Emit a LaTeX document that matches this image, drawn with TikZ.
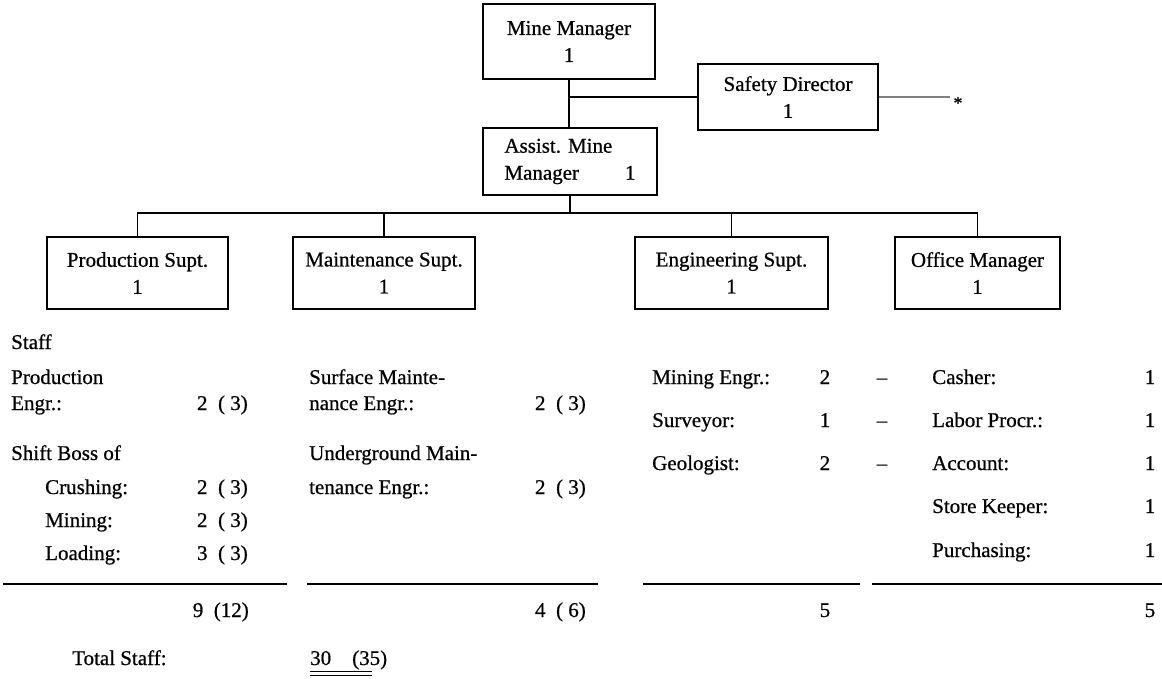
\documentclass[tikz,border=0pt]{standalone}
\usepackage{fontspec}
\setmainfont{Liberation Serif}[FakeBold=0.7]

\tikzset{
  box/.style={draw, line width=2.2pt, align=center, inner sep=0pt},
  wire/.style={line width=1.5pt},
  rule/.style={line width=1.5pt},
  lbl/.style={anchor=base west, inner sep=0pt},
  num/.style={anchor=base east, inner sep=0pt},
  fig/.style={anchor=base, inner sep=0pt}
}

\begin{document}
\begin{tikzpicture}[x=1pt, y=-1pt, font=\fontsize{21}{27}\selectfont]
            \useasboundingbox (0,0) rectangle (1162,679);

            % Draw the top boxes
            \node[box, minimum width=172pt, minimum height=75pt] (mm) at (569,41.5) {Mine Manager\\1};
            \node[box, minimum width=180pt, minimum height=66pt] (safety) at (788,97) {Safety Director\\1};
            \node[box, minimum width=174pt, minimum height=67pt, align=left] (asst) at (570,161.5) {Assist. Mine\\Manager\hspace{46pt}1};
            \node[inner sep=0pt, font=\fontsize{18}{18}\selectfont] (star) at (958,103) {*};

            % Draw the boxes of the second level
            \node[box, minimum width=181pt, minimum height=72pt] (prod) at (137.5,273) {Production Supt.\\1};
            \node[box, minimum width=182pt, minimum height=72pt] (main) at (384,273) {Maintenance Supt.\\1};
            \node[box, minimum width=193pt, minimum height=72pt] (eng) at (731.5,273) {Engineering Supt.\\1};
            \node[box, minimum width=165pt, minimum height=72pt] (offc) at (977.5,273) {Office Manager\\1};

            % Draw the lines between the boxes
            \coordinate (bus) at (0,213);
            \draw[wire] (mm.south) -- (mm.south |- asst.north);
            \draw[wire] (mm.south |- safety.west) -- (safety.west);
            \draw[wire, gray] (safety.east) -- ([xshift=-3pt]star.west |- safety.east);
            \draw[wire] (asst.south) -- (asst.south |- bus);
            \draw[wire] (prod.north) |- (bus -| offc.north) -- (offc.north);
            \draw[wire] (main.north) -- (main.north |- bus);
            \draw[wire] (eng.north) -- (eng.north |- bus);

            % Production staff
            \node[lbl] (staff) at (11,349) {Staff};
            \node[lbl] (pe1) at (11,384) {Production};
            \node[lbl] (pe2) at (11,410) {Engr.:};
            \node[num] (pen) at (248,410) {2\enspace(~3)};
            \node[lbl] (sb) at (11,460) {Shift Boss of};
            \node[lbl] (cr) at (45,494) {Crushing:};
            \node[num] (crn) at (248,494) {2\enspace(~3)};
            \node[lbl] (mi) at (45,527) {Mining:};
            \node[num] (min) at (248,527) {2\enspace(~3)};
            \node[lbl] (lo) at (45,560) {Loading:};
            \node[num] (lon) at (248,560) {3\enspace(~3)};
            \draw[rule] (3,584) -- (287,584);
            \node[num] (psum) at (249,617) {9\enspace(12)};

            % Maintenance staff
            \node[lbl] (sm1) at (309,384) {Surface Mainte-};
            \node[lbl] (sm2) at (309,410) {nance Engr.:};
            \node[num] (smn) at (586,410) {2\enspace(~3)};
            \node[lbl] (um1) at (309,460) {Underground Main-};
            \node[lbl] (um2) at (309,494) {tenance Engr.:};
            \node[num] (umn) at (586,494) {2\enspace(~3)};
            \draw[rule] (307,584) -- (598,584);
            \node[num] (msum) at (586,617) {4\enspace(~6)};

            % Engineering staff
            \node[lbl] (me) at (652,384) {Mining Engr.:};
            \node[fig] (men) at (825,384) {2};
            \node[fig] (med) at (882,384) {--};
            \node[lbl] (sv) at (652,427) {Surveyor:};
            \node[fig] (svn) at (825,427) {1};
            \node[fig] (svd) at (882,427) {--};
            \node[lbl] (ge) at (652,470) {Geologist:};
            \node[fig] (gen) at (825,470) {2};
            \node[fig] (ged) at (882,470) {--};
            \draw[rule] (643,584) -- (860,584);
            \node[fig] (esum) at (825,617) {5};

            % Office staff
            \node[lbl] (ca) at (932,384) {Casher:};
            \node[fig] (can) at (1150,384) {1};
            \node[lbl] (lp) at (932,427) {Labor Procr.:};
            \node[fig] (lpn) at (1150,427) {1};
            \node[lbl] (ac) at (932,470) {Account:};
            \node[fig] (acn) at (1150,470) {1};
            \node[lbl] (sk) at (932,513) {Store Keeper:};
            \node[fig] (skn) at (1150,513) {1};
            \node[lbl] (pu) at (932,557) {Purchasing:};
            \node[fig] (pun) at (1150,557) {1};
            \draw[rule] (872,584) -- (1162,584);
            \node[fig] (osum) at (1150,617) {5};

            % Total
            \node[lbl] (tot) at (72,665) {Total Staff:};
            \node[lbl] (totn) at (310,665) {30\quad(35)};
            \draw[rule] (totn.south west) ++(0,2) -- ++(62,0);
            \draw[rule] (totn.south west) ++(0,6) -- ++(62,0);
        \end{tikzpicture}
\end{document}
